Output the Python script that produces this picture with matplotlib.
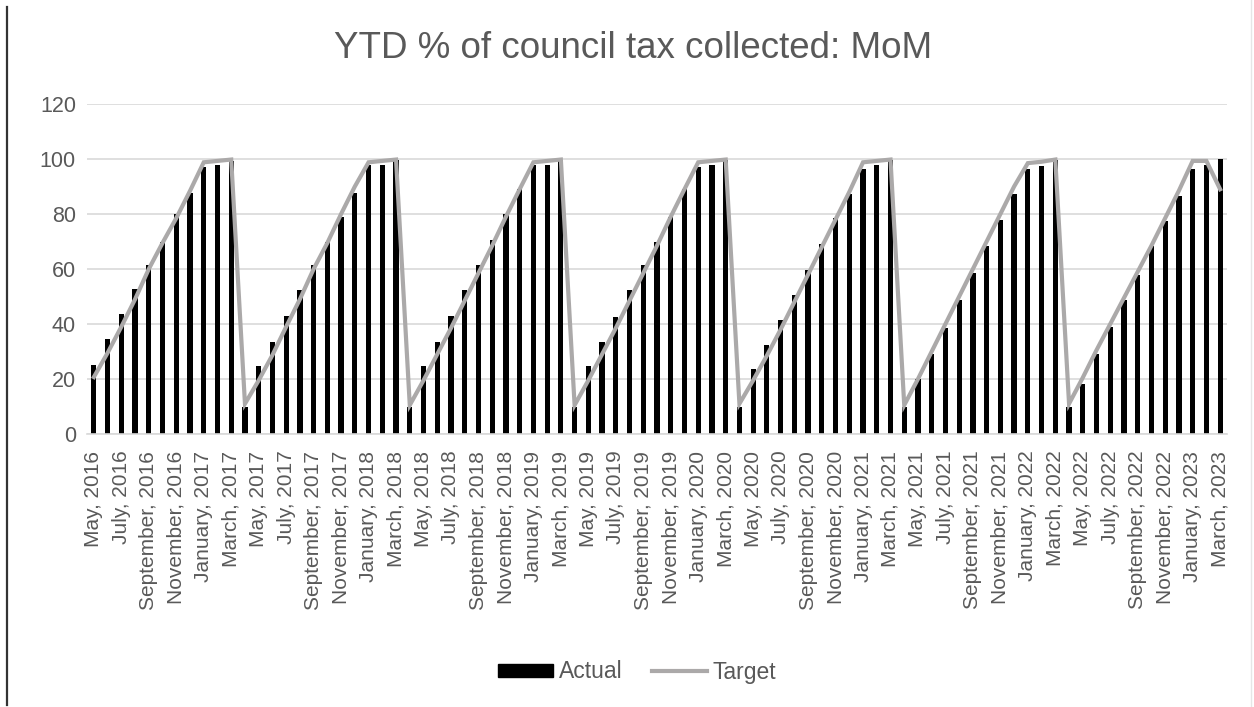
import matplotlib
matplotlib.use('Agg')
import matplotlib.pyplot as plt
from matplotlib.lines import Line2D
from matplotlib.patches import Patch

plt.rcParams['font.family'] = ['Liberation Sans', 'DejaVu Sans']

# months May 2016 .. March 2023
month_names = ['January', 'February', 'March', 'April', 'May', 'June', 'July',
               'August', 'September', 'October', 'November', 'December']
months = []
m, y = 5, 2016
while (y, m) <= (2023, 3):
    months.append(f'{month_names[m - 1]}, {y}')
    m += 1
    if m > 12:
        m, y = 1, y + 1

# YTD actual, by financial year (Apr..Mar); first year starts in May
actual_1617 = [25, 34.4, 43.5, 52.8, 61.3, 70, 80, 87.8, 97, 97.8, 99.4]
actual_1718 = [9.8, 24.6, 33.5, 43, 52.4, 61.6, 70, 79, 87.5, 97.8, 97.8, 99.5]
actual_1819 = [9.8, 24.6, 33.5, 43, 52.4, 61.6, 70.5, 80, 89, 97.8, 97.8, 99.5]
actual_1920 = [9.8, 24.6, 33.5, 42.7, 52.4, 61.6, 70, 79, 89, 97, 97.8, 99.5]
actual_2021 = [9.8, 23.8, 32.3, 41.5, 50.6, 59.8, 69, 78.7, 87.2, 96.3, 97.8, 99.7]
actual_2122 = [9.8, 20, 29, 38.4, 48.8, 58.5, 68.3, 78, 87.2, 96.3, 97.6, 99.7]
actual_2223 = [9.8, 18.3, 29, 39, 48.8, 58, 68.3, 77.4, 86.6, 96.3, 97.8, 100]

target_1617 = [20.7, 29.5, 39, 49, 60, 69.5, 78.5, 88.4, 98.8, 99.3, 99.8]
target_1718 = [11, 19.5, 28.7, 39, 49, 60, 69.5, 80, 90, 98.8, 99.3, 99.8]
target_1819 = [10.5, 19.5, 29, 38.5, 48.5, 58.5, 68.5, 79, 89, 98.8, 99.3, 99.8]
target_1920 = [10.5, 19.5, 29, 38.5, 48.5, 58.5, 68.5, 79, 89, 98.8, 99.3, 99.8]
target_2021 = [11, 19.5, 28.5, 38, 48, 58, 68, 78, 88, 98.8, 99.3, 99.8]
target_2122 = [10.5, 20, 30, 40, 50, 60, 70, 80, 90, 98.5, 99, 99.8]
target_2223 = [11, 20.5, 30.5, 40, 49.5, 59, 68.5, 78.5, 88.5, 99.3, 99.3, 89]

actual = (actual_1617 + actual_1718 + actual_1819 + actual_1920
          + actual_2021 + actual_2122 + actual_2223)
target = (target_1617 + target_1718 + target_1819 + target_1920
          + target_2021 + target_2122 + target_2223)

text_grey = '#595959'
line_grey = '#ABA9A9'

fig = plt.figure(figsize=(12.54, 7.07), dpi=100)
ax = fig.add_axes([87 / 1254, 1 - 434 / 707, 1140 / 1254, 330 / 707])

x = list(range(len(months)))
ax.bar(x, actual, width=0.38, color='black', zorder=2, label='Actual')
ax.plot(x, target, color=line_grey, linewidth=3.0, zorder=3,
        solid_joinstyle='miter', label='Target')

ax.set_xlim(-0.5, len(months) - 0.5)
ax.set_ylim(0, 120)
ax.set_yticks(range(0, 121, 20))
ax.grid(axis='y', color='#D9D9D9', linewidth=1.2, zorder=0)
ax.set_axisbelow(True)
for s in ['top', 'right', 'left']:
    ax.spines[s].set_visible(False)
ax.spines['bottom'].set_color('#D9D9D9')
ax.spines['bottom'].set_linewidth(1.2)

ax.set_xticks(x[::2])
ax.set_xticklabels(months[::2], rotation=90, fontsize=15, color=text_grey)
ax.tick_params(axis='x', length=0, pad=12)
ax.tick_params(axis='y', length=0, pad=8, labelsize=15.5, labelcolor=text_grey)

fig.text(0.505, 1 - 49 / 707, 'YTD % of council tax collected: MoM',
         ha='center', va='center', fontsize=26.5, color=text_grey)

handles = [Patch(facecolor='black', edgecolor='black'),
           Line2D([0], [0], color=line_grey, linewidth=3.0)]
fig.legend(handles, ['Actual', 'Target'], loc='center', ncol=2,
           bbox_to_anchor=(0.508, 1 - 672 / 707), frameon=False,
           fontsize=16.5, labelcolor=text_grey, handlelength=2.4,
           handleheight=0.5, handletextpad=0.25, columnspacing=1.3)

# frame lines at the picture edges
fig.add_artist(Line2D([7 / 1254, 7 / 1254], [2 / 707, 700 / 707],
                      color='#333333', linewidth=1.6))
fig.add_artist(Line2D([1251 / 1254, 1251 / 1254], [0, 1],
                      color='#E6E6E6', linewidth=1.0))

fig.savefig('out.png', dpi=100)
